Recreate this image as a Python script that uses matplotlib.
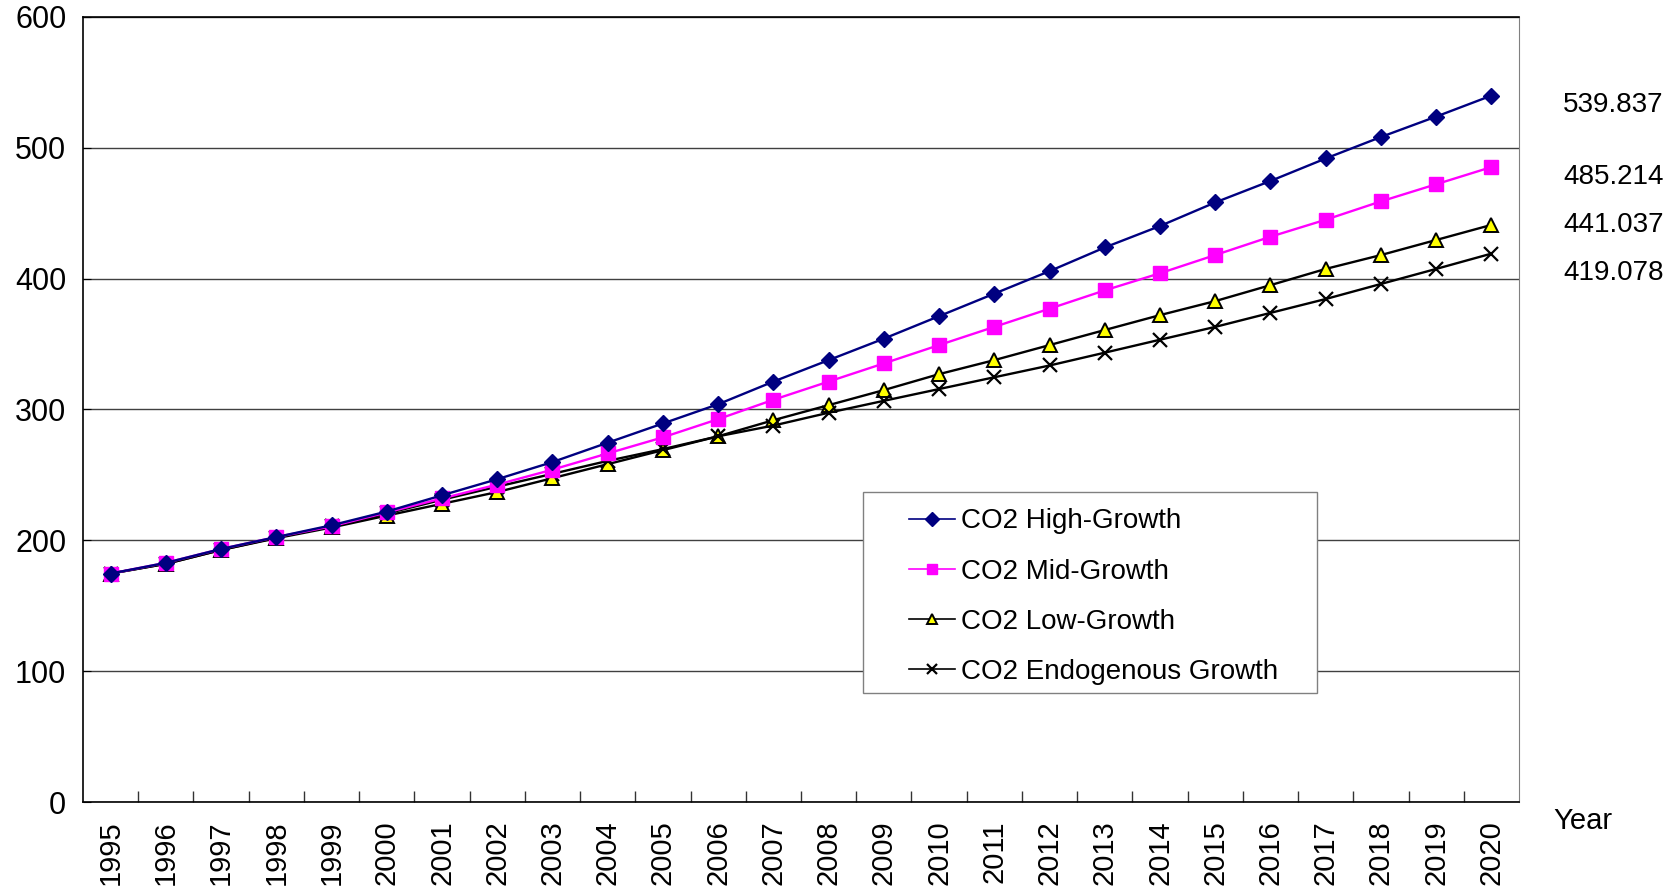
import matplotlib.pyplot as plt
from matplotlib.ticker import FixedLocator
from matplotlib.patches import Rectangle

plt.rcParams['font.family'] = ['Liberation Sans', 'DejaVu Sans']

# data
years = [str(y) for y in range(1995, 2021)]
high = [174.6, 182.8, 193.4, 202.5, 211.5, 222.0, 234.4, 246.7, 259.8, 274.6, 289.3, 304.0, 321.3,
        337.7, 354.1, 371.3, 388.5, 405.7, 423.8, 440.2, 458.2, 474.6, 491.8, 508.2, 523.8, 539.837]
mid = [174.6, 182.8, 193.4, 202.5, 210.7, 221.3, 232.0, 242.6, 254.0, 266.4, 278.7, 292.6, 307.4,
       321.3, 335.2, 349.2, 363.1, 377.0, 391.0, 404.1, 418.0, 432.0, 445.0, 459.0, 472.1, 485.214]
low = [174.6, 182.0, 192.6, 201.6, 209.8, 218.9, 227.9, 236.9, 247.5, 258.2, 268.9, 279.5, 291.8,
       303.3, 314.8, 327.0, 337.7, 349.2, 360.7, 372.1, 382.8, 395.0, 407.4, 418.0, 429.5, 441.037]
endo = [174.6, 182.0, 192.6, 202.0, 210.7, 220.5, 231.0, 241.0, 250.8, 260.7, 269.7, 279.5, 287.7,
        297.5, 306.6, 315.6, 324.6, 333.6, 343.4, 353.3, 363.1, 373.8, 384.4, 395.9, 407.4, 419.078]
end_labels = ['539.837', '485.214', '441.037', '419.078']
end_label_y = [533, 478, 441, 404]

fig = plt.figure(figsize=(16.77, 8.88), dpi=100)
ax = fig.add_axes([0.0495, 0.0968, 0.8563, 0.8842])

x = list(range(len(years)))
ax.plot(x, high, color='#000080', lw=1.7, marker='D', ms=8, mec='#000080', label='CO2 High-Growth', zorder=5)
ax.plot(x, mid, color='#FF00FF', lw=1.7, marker='s', ms=9.5, mec='#FF00FF', label='CO2 Mid-Growth', zorder=4)
ax.plot(x, low, color='black', lw=1.7, marker='^', ms=9.5, mfc='#FFFF00', mec='black', mew=1.4,
        label='CO2 Low-Growth', zorder=3)
ax.plot(x, endo, color='black', lw=1.7, marker='x', ms=9.5, mew=1.6, label='CO2 Endogenous Growth', zorder=3)

ax.set_xlim(-0.5, len(years) - 0.5)
ax.set_ylim(0, 600)
ax.set_yticks(range(0, 601, 100))
ax.set_xticks(x)
ax.set_xticklabels(years, rotation=90, fontsize=21)
ax.xaxis.set_minor_locator(FixedLocator([i - 0.5 for i in range(1, len(years))]))
ax.tick_params(axis='x', which='major', length=0, pad=13)
ax.tick_params(axis='x', which='minor', direction='in', length=8, width=1, color='#333333')
ax.tick_params(axis='y', direction='in', length=6, labelsize=22, pad=12)

ax.grid(axis='y', color='#404040', lw=1)
ax.set_axisbelow(True)
for s in ['left', 'bottom', 'top']:
    ax.spines[s].set_color('black')
    ax.spines[s].set_linewidth(1.2)
ax.spines['right'].set_color('#808080')

for lab, yy in zip(end_labels, end_label_y):
    ax.text(1.0657, yy, lab, transform=ax.get_yaxis_transform(), ha='center', va='center',
            fontsize=20, clip_on=False)

ax.text(1.0445, -0.024, 'Year', transform=ax.transAxes, ha='center', va='center', fontsize=21)

# legend box drawn separately so the inner padding can match
ax.add_patch(Rectangle((0.5435, 0.139), 0.3155, 0.256, transform=ax.transAxes, fill=True,
                       facecolor='white', edgecolor='#808080', lw=1, zorder=6))
leg = ax.legend(loc='upper left', bbox_to_anchor=(0.5755, 0.374), fontsize=20, frameon=False,
                handlelength=1.65, labelspacing=0.87, borderpad=0, handletextpad=0.2,
                borderaxespad=0)
leg.set_zorder(7)
for h in leg.legend_handles:
    h.set_linewidth(1.2)
    h.set_markersize(7)

fig.savefig('out.png', dpi=100)
